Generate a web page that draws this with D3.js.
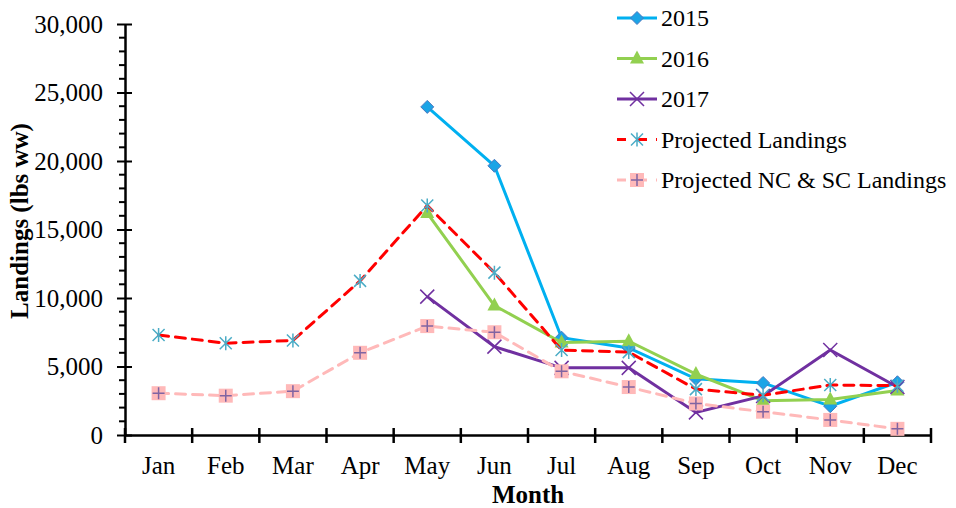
<!DOCTYPE html>
<html><head><meta charset="utf-8">
<script src="https://cdn.jsdelivr.net/npm/d3@7"></script>
<style>body{margin:0;background:#fff}svg{display:block}text{font-family:"Liberation Serif","Times New Roman",serif}</style>
</head><body>
<svg id="c" width="956" height="508"></svg>
<script>
const months = ["Jan","Feb","Mar","Apr","May","Jun","Jul","Aug","Sep","Oct","Nov","Dec"];
const y2015 = [null,null,null,null,23950,19650,7100,6350,4100,3800,2100,3850];
const y2016 = [null,null,null,null,16200,9450,6750,6850,4450,2500,2600,3250];
const y2017 = [null,null,null,null,10100,6450,4900,4900,1650,2850,6200,3500];
const projected = [7300,6700,6900,11250,16750,11850,6200,6050,3350,2900,3650,3600];
const projectedNCSC = [3050,2870,3200,6000,7950,7500,4650,3500,2300,1700,1100,450];
const yTicks = [0,5000,10000,15000,20000,25000,30000];

const svg = d3.select("#c");
const L = 125, R = 931, T = 24, B = 435;
const x = d3.scaleBand().domain(months).range([L, R]);
const y = d3.scaleLinear().domain([0, 30000]).range([B, T]);
const cx = m => x(m) + x.bandwidth() / 2;

// minor y ticks
const minor = d3.range(0, 30001, 1000).filter(v => v % 5000 !== 0);
svg.append("g").selectAll("line").data(minor).join("line")
  .attr("x1", L - 6).attr("x2", L).attr("y1", d => y(d)).attr("y2", d => y(d))
  .attr("stroke", "#000").attr("stroke-width", 2);
// y axis
const ya = svg.append("g").attr("transform", `translate(${L},0)`)
  .call(d3.axisLeft(y).tickValues(yTicks).tickFormat(d3.format(",")).tickSize(0).tickPadding(22));
ya.select(".domain").attr("stroke", "#000").attr("stroke-width", 2.5);
ya.selectAll(".tick text").attr("font-size", 25).attr("fill", "#000").attr("font-family", "Liberation Serif");
ya.selectAll(".tick").append("line").attr("x1", -8).attr("x2", 7).attr("stroke", "#000").attr("stroke-width", 2);

// x axis
const xa = svg.append("g").attr("transform", `translate(0,${B})`)
  .call(d3.axisBottom(x).tickSize(0).tickPadding(21));
xa.select(".domain").attr("stroke", "#000").attr("stroke-width", 2.5);
xa.selectAll(".tick text").attr("font-size", 25).attr("fill", "#000").attr("font-family", "Liberation Serif");
const bounds = months.map(m => x(m) + x.bandwidth()).concat([L]);
xa.append("g").selectAll("line").data(bounds).join("line")
  .attr("x1", d => d).attr("x2", d => d).attr("y1", -7).attr("y2", 8)
  .attr("stroke", "#000").attr("stroke-width", 2.5);

// titles
svg.append("text").attr("x", (L + R) / 2).attr("y", 503).attr("text-anchor", "middle")
  .attr("font-size", 25).attr("font-weight", "bold").text("Month");
svg.append("text").attr("transform", `translate(28,221) rotate(-90)`).attr("text-anchor", "middle")
  .attr("font-size", 25).attr("font-weight", "bold").text("Landings (lbs ww)");

const series = [
  {name: "2015", vals: y2015, color: "#00B0F0", dash: null, marker: "diamond"},
  {name: "2016", vals: y2016, color: "#92D050", dash: null, marker: "triangle"},
  {name: "2017", vals: y2017, color: "#7030A0", dash: null, marker: "x"},
  {name: "Projected Landings", vals: projected, color: "#FF0000", dash: "10,7", marker: "star"},
  {name: "Projected NC & SC Landings", vals: projectedNCSC, color: "#FFB9B9", dash: "10,7", marker: "square"}
];

function drawMarker(g, type, px, py) {
  if (type === "diamond") {
    g.append("path").attr("d", `M${px},${py-6.5}L${px+6.5},${py}L${px},${py+6.5}L${px-6.5},${py}Z`)
      .attr("fill", "#1BA4E6").attr("stroke", "#4A78C0").attr("stroke-width", 1);
  } else if (type === "triangle") {
    g.append("path").attr("d", `M${px},${py-8}L${px+7},${py+5}L${px-7},${py+5}Z`).attr("fill", "#92D050");
  } else if (type === "x") {
    g.append("path").attr("d", `M${px-7},${py-7}L${px+7},${py+7}M${px-7},${py+7}L${px+7},${py-7}`)
      .attr("stroke", "#7030A0").attr("stroke-width", 1.5);
  } else if (type === "star") {
    g.append("path").attr("d", `M${px-6},${py-6}L${px+6},${py+6}M${px-6},${py+6}L${px+6},${py-6}M${px},${py-7}L${px},${py+7}`)
      .attr("stroke", "#4BACC6").attr("stroke-width", 1.5);
  } else if (type === "square") {
    g.append("rect").attr("x", px - 7).attr("y", py - 7).attr("width", 14).attr("height", 14).attr("fill", "#FFB9B9");
    g.append("path").attr("d", `M${px-6},${py}L${px+6},${py}M${px},${py-6}L${px},${py+6}`)
      .attr("stroke", "#8064A2").attr("stroke-width", 1.5);
  }
}

const line = d3.line().defined(d => d.v != null).x(d => cx(d.m)).y(d => y(d.v));
series.forEach(s => {
  const data = months.map((m, k) => ({m, v: s.vals[k]}));
  const g = svg.append("g");
  g.append("path").datum(data).attr("d", line).attr("fill", "none")
    .attr("stroke", s.color).attr("stroke-width", 3)
    .attr("stroke-dasharray", s.dash).attr("stroke-linecap", s.dash ? "round" : "butt");
  data.filter(d => d.v != null).forEach(d => drawMarker(g, s.marker, cx(d.m), y(d.v)));
});

// legend
const lg = svg.append("g");
series.forEach((s, i) => {
  const ly = 18 + i * 40.5;
  lg.append("line").attr("x1", 617).attr("x2", 657).attr("y1", ly).attr("y2", ly)
    .attr("stroke", s.color).attr("stroke-width", 3)
    .attr("stroke-dasharray", s.dash ? "9,12,9" : null);
  drawMarker(lg, s.marker, 637, ly);
  lg.append("text").attr("x", 661).attr("y", ly + 8).attr("font-size", 24).attr("fill", "#000").text(s.name);
});
</script>
</body></html>
